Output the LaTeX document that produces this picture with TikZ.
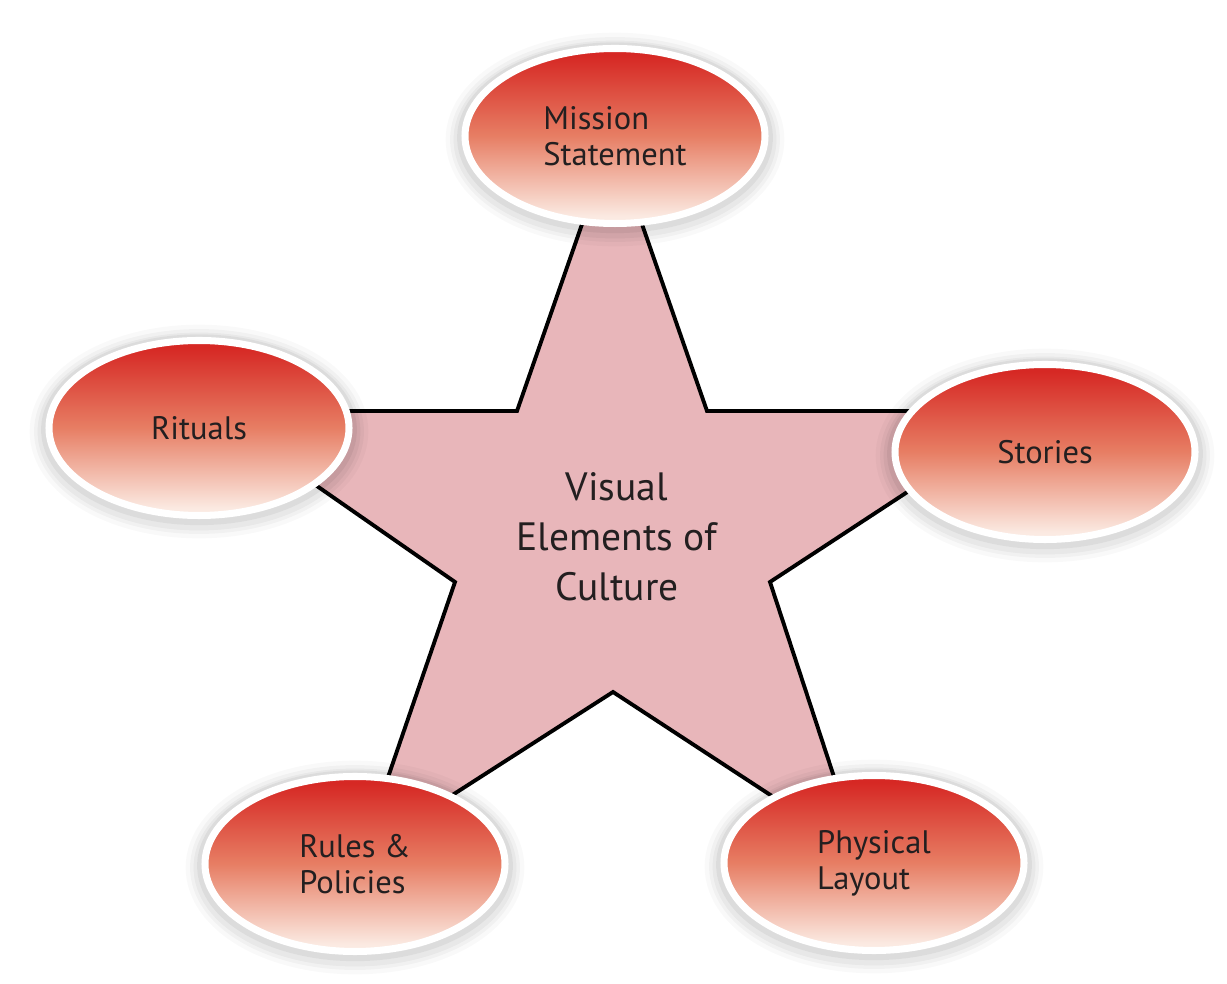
\documentclass[tikz,border=0pt]{standalone}
\usepackage{fontspec}
\setmainfont{PT Sans}
\usetikzlibrary{shapes.geometric}

\definecolor{ovaltop}{RGB}{214,40,36}
\definecolor{ovalmid}{RGB}{231,126,100}
\definecolor{ovalbot}{RGB}{251,234,226}
\definecolor{starfill}{RGB}{232,182,186}
\definecolor{textgray}{RGB}{35,31,32}
\pgfdeclareverticalshading{ovalshade}{100bp}{color(0bp)=(ovalbot); color(27bp)=(ovalbot); color(50bp)=(ovalmid); color(73bp)=(ovaltop); color(100bp)=(ovaltop)}

\begin{document}
\begin{tikzpicture}[
    oval/.style={ellipse, minimum width=6cm, minimum height=3.5cm, inner sep=0pt,
        shading=ovalshade, draw=white, line width=4pt,
        preaction={draw=black, line width=22pt, opacity=0.025, transform canvas={yshift=-2pt}},
        preaction={draw=black, line width=17pt, opacity=0.03, transform canvas={yshift=-2pt}},
        preaction={draw=black, line width=13pt, opacity=0.04, transform canvas={yshift=-2pt}},
        preaction={draw=black, line width=9pt, opacity=0.05, transform canvas={yshift=-1pt}},
        font=\fontsize{18.5}{20.5}\selectfont, text=textgray, align=left},
    ]
    \useasboundingbox (0,0) rectangle (24.54,19.66);

    % star
    \draw[line width=2.2pt, fill=starfill, line join=miter]
        (12.24,16.90) -- (14.14,11.44) -- (20.62,11.44) -- (15.40,8.02) -- (17.18,2.60)
        -- (12.26,5.82) -- (7.24,2.60) -- (9.10,8.02) -- (4.18,11.44) -- (10.34,11.44) -- cycle;
    \node[align=center, text=textgray, font=\fontsize{22.5}{28.5}\selectfont]
        (culture) at (12.34,8.92) {Visual\\Elements of\\Culture};

    % ovals
    \node[oval] (mission)  at (12.30,16.94) {Mission\\Statement};
    \node[oval] (rituals)  at (3.98,11.10)  {Rituals};
    \node[oval] (stories)  at (20.90,10.62) {Stories};
    \node[oval] (rules)    at (7.10,2.38)   {Rules \&\\Policies};
    \node[oval] (physical) at (17.48,2.40)  {Physical\\Layout};
\end{tikzpicture}
\end{document}
